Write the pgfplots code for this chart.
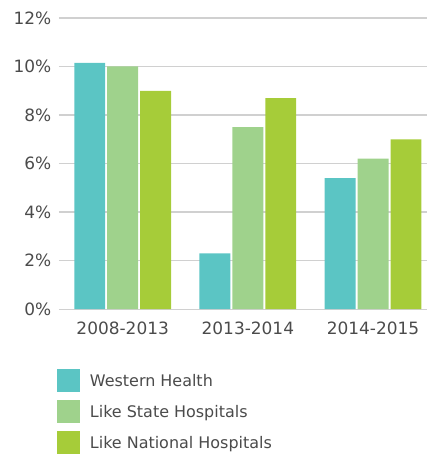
\documentclass[border=0pt]{standalone}
\usepackage{pgfplots}
\pgfplotsset{compat=1.18}
\usepackage{fontspec}
\setmainfont{DejaVu Sans}
\definecolor{cteal}{RGB}{91,197,196}
\definecolor{cgreen}{RGB}{159,210,140}
\definecolor{clime}{RGB}{166,204,57}
\definecolor{ctext}{RGB}{75,75,75}
\definecolor{cgrid}{RGB}{208,208,208}
\begin{document}
\begin{tikzpicture}
\begin{axis}[
  name=ax,
  scale only axis,
  width=369pt, height=292pt,
  ybar=2pt, bar width=31pt,
  xmin=-0.51, xmax=2.43,
  ymin=0, ymax=12,
  ytick={0,2,4,6,8,10,12},
  yticklabel={\pgfmathprintnumber{\tick}\%},
  xtick={0,1,2},
  xticklabels={2008-2013,2013-2014,2014-2015},
  axis line style={draw=none},
  major tick length=0pt,
  ymajorgrids,
  grid style={cgrid, line width=1.3pt},
  tick label style={font=\fontsize{17}{20}\selectfont, text=ctext},
  /pgf/number format/assume math mode=true,
  yticklabel style={xshift=-4pt},
  xticklabel style={yshift=-9pt},
  legend style={draw=none, at={(0,0)}, anchor=north west, xshift=-2pt, yshift=-60pt,
    inner sep=0pt, row sep=8pt, font=\fontsize{16}{19}\selectfont, text=ctext,
    cells={anchor=west}, nodes={inner sep=0pt, text depth=0pt}},
  legend image code/.code={\fill[#1] (0pt,-11.5pt) rectangle (23pt,11.5pt);},
  legend cell align=left,
  every axis legend/.append style={column sep=10pt},
]
\addplot[fill=cteal, draw=none] coordinates {(0,10.15) (1,2.3) (2,5.4)};
\addplot[fill=cgreen, draw=none] coordinates {(0,10.0) (1,7.5) (2,6.2)};
\addplot[fill=clime, draw=none] coordinates {(0,9.0) (1,8.7) (2,7.0)};
\legend{Western Health, Like State Hospitals, Like National Hospitals}
\end{axis}
\path (ax.south west) ++(-59pt,310pt) rectangle ++(428pt,-454pt);
\end{tikzpicture}
\end{document}
